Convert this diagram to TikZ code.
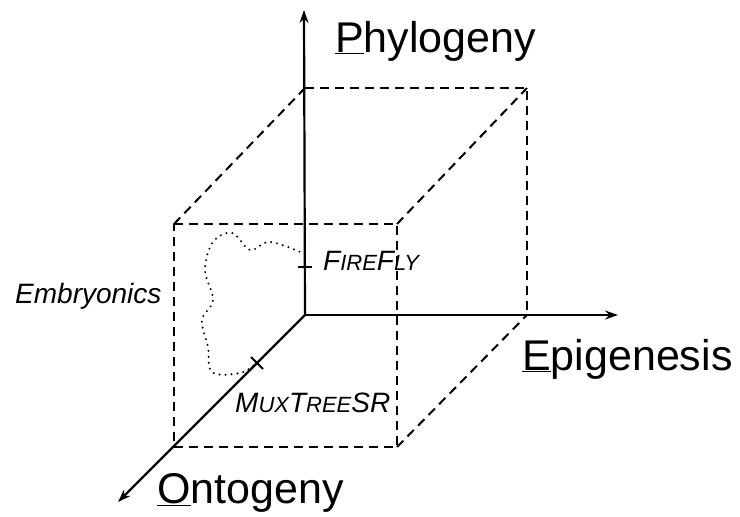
\documentclass[tikz,border=0pt]{standalone}
\usepackage{fontspec}
\setmainfont{Liberation Sans}
\usetikzlibrary{arrows.meta}
\newcommand{\smc}[1]{{\fontsize{22}{24}\selectfont #1}}
\begin{document}
\begin{tikzpicture}[x=1pt,y=-1pt,
  axis/.style={line width=2.2pt,-{Stealth[length=13pt,width=9pt]}},
  cubeedge/.style={line width=2pt,dash pattern=on 9pt off 6pt},
  big/.style={font=\fontsize{43}{50}\selectfont,anchor=base west,inner sep=0pt},
  lab/.style={font=\fontsize{28}{32}\selectfont\itshape,anchor=base west,inner sep=0pt},
  path/.style={line width=2.2pt,dash pattern=on 0pt off 6pt,line cap=round}]
\useasboundingbox (0,0) rectangle (740,517);
% coordinates
\coordinate (O) at (305,315);
\coordinate (Ytip) at (304,10);
\coordinate (Xtip) at (618,315);
\coordinate (Ztip) at (118,502);
\coordinate (B1) at (305,88);
\coordinate (B2) at (527,88);
\coordinate (B3) at (527,315);
\coordinate (F1) at (174,224);
\coordinate (F2) at (397,224);
\coordinate (F3) at (397,447);
\coordinate (F4) at (174,447);
% cube
\draw[cubeedge] (B1) -- (B2) -- (B3);
\draw[cubeedge] (F1) -- (F2) -- (F3) -- (F4) -- cycle;
\draw[cubeedge] (F1) -- (B1);
\draw[cubeedge] (F2) -- (B2);
\draw[cubeedge] (F3) -- (B3);
% axes
\draw[axis] (O) -- (Ytip);
\draw[axis] (O) -- (Xtip);
\draw[axis] (O) -- (Ztip);
% marks
\coordinate (FF) at (305,267);
\draw[line width=2pt] ([xshift=-7pt]FF) -- ([xshift=7pt]FF);
\coordinate (MT) at (257,363);
\draw[line width=2pt] ([shift={(-6pt,-6pt)}]MT) -- ([shift={(6pt,6pt)}]MT);
\draw[line width=2pt] ([shift={(-6pt,6pt)}]MT) -- ([shift={(6pt,-6pt)}]MT);
% dotted region
\draw[path] plot[smooth,tension=0.6] coordinates {(305,254) (285,246) (267,242) (250,250) (232,233) (213,242) (205,270) (213,300) (202,320) (208,347) (212,372) (240,373) (257,363)};
% labels
\node[big] (phy) at (335,52) {\underline{P}hylogeny};
\node[big] (epi) at (522,370) {\underline{E}pigenesis};
\node[big] (ont) at (157,503) {\underline{O}ntogeny};
\node[lab] (emb) at (15,303) {Embryonics};
\node[lab] (ff) at (323,270) {F\smc{IRE}F\smc{LY}};
\node[lab] (mt) at (235,412) {M\smc{UX}T\smc{REE}SR};
\end{tikzpicture}
\end{document}
